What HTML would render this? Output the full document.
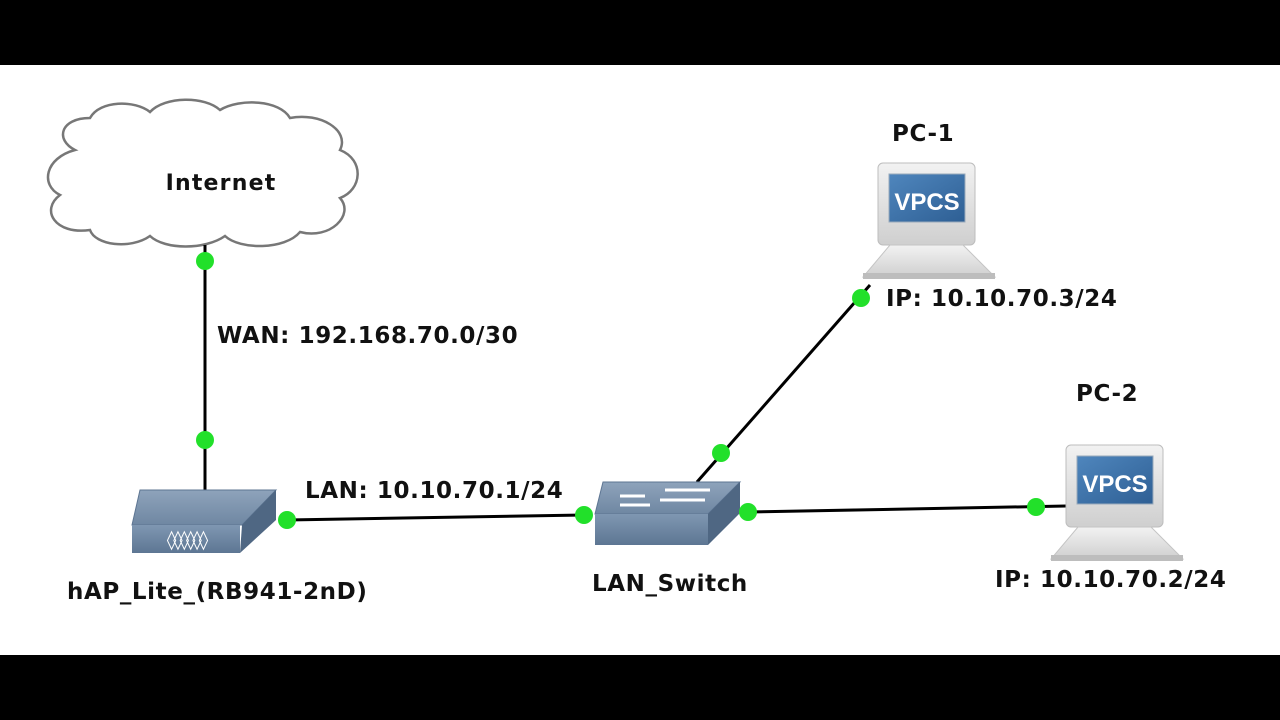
<!DOCTYPE html>
<html><head><meta charset="utf-8"><style>
html,body{margin:0;padding:0;background:#000;}
svg{display:block;}
text{font-family:"DejaVu Sans","Liberation Sans",sans-serif;font-weight:bold;fill:#111;}
</style></head><body>
<svg width="1280" height="720" viewBox="0 0 1280 720" xmlns="http://www.w3.org/2000/svg">
<defs>
<linearGradient id="top" x1="0" y1="0" x2="0" y2="1"><stop offset="0" stop-color="#8ea3bb"/><stop offset="1" stop-color="#6f87a2"/></linearGradient>
<linearGradient id="front" x1="0" y1="0" x2="0" y2="1"><stop offset="0" stop-color="#7f97b2"/><stop offset="1" stop-color="#5d7693"/></linearGradient>
<linearGradient id="scr" x1="0" y1="0" x2="1" y2="1"><stop offset="0" stop-color="#4f86bd"/><stop offset="1" stop-color="#2e5f94"/></linearGradient>
<linearGradient id="mon" x1="0" y1="0" x2="0" y2="1"><stop offset="0" stop-color="#f2f2f2"/><stop offset="1" stop-color="#cfcfcf"/></linearGradient>
<g id="pc">
<rect x="0" y="0" width="97" height="82" rx="5" fill="url(#mon)" stroke="#bdbdbd"/>
<rect x="11" y="11" width="76" height="48" fill="url(#scr)" stroke="#9ab"/>
<text x="49" y="47" text-anchor="middle" style="font-family:'Liberation Sans',sans-serif;font-weight:bold;font-size:24px;fill:#fff">VPCS</text>
<path d="M12 82 L85 82 L117 114 L-15 114 Z" fill="url(#mon)" stroke="#c4c4c4"/>
<rect x="-15" y="110" width="132" height="6" fill="#bdbdbd"/>
</g>
</defs>
<rect x="0" y="65" width="1280" height="590" fill="#fff"/>
<path d="M75 150 C55 140 60 118 90 118 C100 100 135 100 150 112 C165 96 205 96 220 110 C240 98 280 100 290 118 C320 112 350 130 340 150 C365 160 362 190 340 198 C355 215 330 240 300 232 C285 250 240 250 225 236 C205 250 165 250 150 236 C130 250 95 245 90 230 C55 235 40 210 60 195 C40 185 45 158 75 150 Z" fill="#fff" stroke="#777" stroke-width="2.5"/>
<text x="221" y="190" text-anchor="middle" font-size="22" letter-spacing="1.2">Internet</text>
<g stroke="#000" stroke-width="3" fill="none">
<line x1="205" y1="245" x2="205" y2="490"/>
<line x1="287" y1="520" x2="584" y2="515"/>
<line x1="748" y1="512" x2="1066" y2="506"/>
<line x1="697" y1="482" x2="870" y2="285"/>
</g>
<path d="M140 490 L276 490 L242 525 L132 525 Z" fill="url(#top)" stroke="#5d7592"/>
<path d="M242 525 L276 490 L276 520 L240 553 Z" fill="#4f6783"/>
<rect x="132" y="525" width="108" height="28" fill="url(#front)"/>
<text x="186" y="546" text-anchor="middle" style="font-size:19px;fill:#fff;font-family:'DejaVu Sans',sans-serif;letter-spacing:-3px">◊◊◊◊◊◊</text>
<path d="M603 482 L740 482 L708 514 L595 514 Z" fill="url(#top)" stroke="#5d7592"/>
<path d="M708 514 L740 482 L740 513 L708 545 Z" fill="#4f6783"/>
<rect x="595" y="514" width="113" height="31" fill="url(#front)"/>
<g stroke="#fff" stroke-width="3" fill="#fff">
<line x1="620" y1="496" x2="645" y2="496"/><line x1="665" y1="490" x2="710" y2="490"/>
<line x1="620" y1="505" x2="650" y2="505"/><line x1="660" y1="500" x2="705" y2="500"/>
</g>
<use href="#pc" x="878" y="163"/>
<use href="#pc" x="1066" y="445"/>
<g fill="#22e02a">
<circle cx="205" cy="261" r="9"/><circle cx="205" cy="440" r="9"/>
<circle cx="287" cy="520" r="9"/><circle cx="584" cy="515" r="9"/>
<circle cx="748" cy="512" r="9"/><circle cx="1036" cy="507" r="9"/>
<circle cx="721" cy="453" r="9"/><circle cx="861" cy="298" r="9"/>
</g>
<g font-size="23" letter-spacing="0.6">
<text x="217" y="343">WAN: 192.168.70.0/30</text>
<text x="305" y="498">LAN: 10.10.70.1/24</text>
<text x="67" y="599">hAP_Lite_(RB941-2nD)</text>
<text x="592" y="591">LAN_Switch</text>
<text x="892" y="141">PC-1</text>
<text x="886" y="306">IP: 10.10.70.3/24</text>
<text x="1076" y="401">PC-2</text>
<text x="995" y="587">IP: 10.10.70.2/24</text>
</g>
</svg>
</body></html>
